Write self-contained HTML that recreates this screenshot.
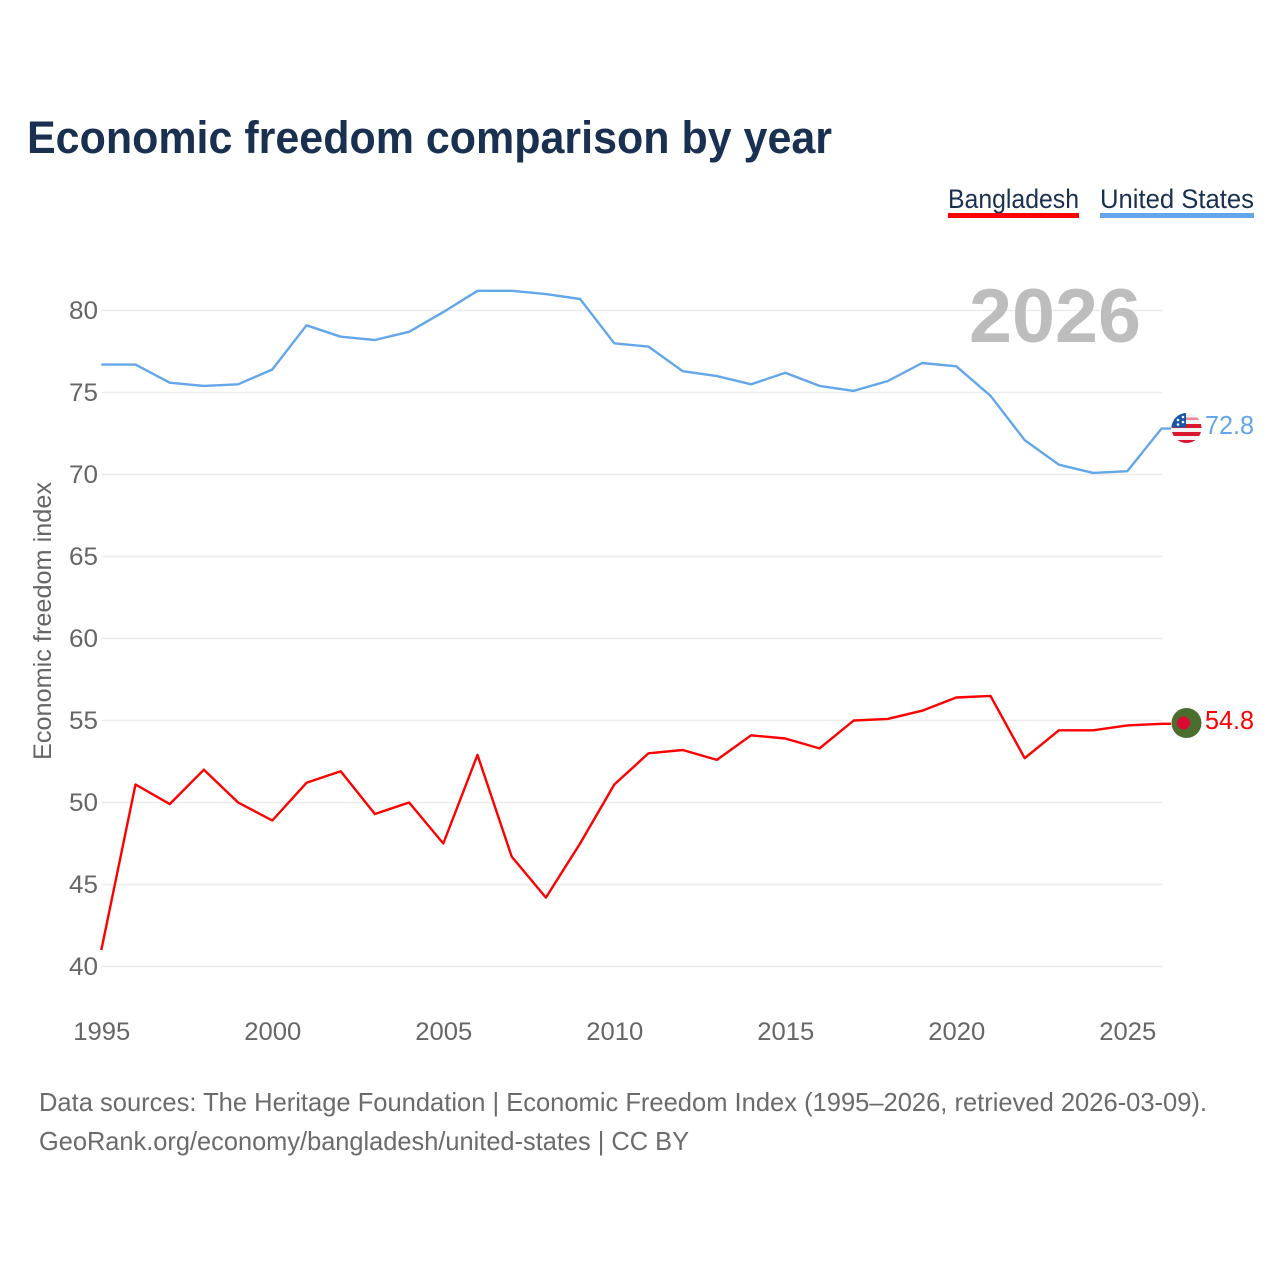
<!DOCTYPE html>
<html lang="en">
<head>
<meta charset="utf-8">
<title>Economic freedom comparison by year</title>
<style>
html,body{margin:0;padding:0;background:#fff;width:1280px;height:1280px;overflow:hidden}
svg{display:block;font-family:"Liberation Sans",sans-serif}
</style>
</head>
<body>
<svg id="chart" xmlns="http://www.w3.org/2000/svg" width="1280" height="1280" viewBox="0 0 1280 1280">
  <defs>
    <clipPath id="us-clip"><circle cx="1186.5" cy="428" r="15"/></clipPath>
    <clipPath id="bd-clip"><circle cx="1186.5" cy="723" r="15"/></clipPath>
  </defs>
  <rect x="0" y="0" width="1280" height="1280" fill="#ffffff"/>
  <text x="27" y="153" font-size="45" font-weight="700" fill="#1a3050" textLength="805" lengthAdjust="spacingAndGlyphs">Economic freedom comparison by year</text>

  <g>
    <text x="948" y="208" font-size="27" fill="#1a3050" textLength="131" lengthAdjust="spacingAndGlyphs">Bangladesh</text>
    <rect x="948" y="213" width="131" height="5" fill="#ff0000"/>
  </g>
  <g>
    <text x="1100" y="208" font-size="27" fill="#1a3050" textLength="154" lengthAdjust="spacingAndGlyphs">United States</text>
    <rect x="1100" y="213" width="154" height="5" fill="#63a6ea"/>
  </g>

  <g id="grid"></g>
  <g id="y-ticks"></g>
  <g id="x-ticks"></g>

  <text x="51" y="621" font-size="25" fill="#666666" text-anchor="middle" transform="rotate(-90 51 621)" textLength="278" lengthAdjust="spacingAndGlyphs">Economic freedom index</text>

  <text x="1141" y="342" font-size="76" font-weight="700" fill="#bdbdbd" text-anchor="end" textLength="172" lengthAdjust="spacingAndGlyphs">2026</text>

  <g id="series"></g>

  <g clip-path="url(#us-clip)">
    <rect x="1171" y="413" width="31" height="30" fill="#f2f2f2"/>
    <rect x="1171" y="417.5" width="31" height="2.5" fill="#e98a96"/>
    <rect x="1171" y="424" width="31" height="4" fill="#d8182f"/>
    <rect x="1171" y="432" width="31" height="4" fill="#d8182f"/>
    <rect x="1171" y="440" width="31" height="4" fill="#d8182f"/>
    <rect x="1171" y="413" width="15" height="14.5" fill="#1a56a8"/>
    <circle cx="1178" cy="420" r="1.3" fill="#fff"/>
    <circle cx="1183" cy="417" r="1.3" fill="#fff"/>
    <circle cx="1183" cy="422" r="1.3" fill="#fff"/>
    <circle cx="1178" cy="424.5" r="1.3" fill="#fff"/>
  </g>
  <g clip-path="url(#bd-clip)">
    <rect x="1171" y="708" width="31" height="30" fill="#4b6e2e"/>
    <circle cx="1183.5" cy="723" r="6.5" fill="#dc0a32"/>
  </g>

  <text id="label-us" x="1205" y="434" font-size="26" fill="#63a6ea" textLength="49" lengthAdjust="spacingAndGlyphs"></text>
  <text id="label-bd" x="1205" y="729" font-size="26" fill="#ff0000" textLength="49" lengthAdjust="spacingAndGlyphs"></text>

  <text x="39" y="1111" font-size="26" fill="#6b6b6b" textLength="1168" lengthAdjust="spacingAndGlyphs">Data sources: The Heritage Foundation | Economic Freedom Index (1995–2026, retrieved 2026-03-09).</text>
  <text x="39" y="1150" font-size="26" fill="#6b6b6b" textLength="650" lengthAdjust="spacingAndGlyphs">GeoRank.org/economy/bangladesh/united-states | CC BY</text>
</svg>
<script>
const years = [1995,1996,1997,1998,1999,2000,2001,2002,2003,2004,2005,2006,2007,2008,2009,2010,2011,2012,2013,2014,2015,2016,2017,2018,2019,2020,2021,2022,2023,2024,2025,2026];
const bangladeshValues = [41.0,51.1,49.9,52.0,50.0,48.9,51.2,51.9,49.3,50.0,47.5,52.9,46.7,44.2,47.5,51.1,53.0,53.2,52.6,54.1,53.9,53.3,55.0,55.1,55.6,56.4,56.5,52.7,54.4,54.4,54.7,54.8];
const unitedStatesValues = [76.7,76.7,75.6,75.4,75.5,76.4,79.1,78.4,78.2,78.7,79.9,81.2,81.2,81.0,80.7,78.0,77.8,76.3,76.0,75.5,76.2,75.4,75.1,75.7,76.8,76.6,74.8,72.1,70.6,70.1,70.2,72.8];
const yTickValues = [40,45,50,55,60,65,70,75,80];
const xTickValues = [1995,2000,2005,2010,2015,2020,2025];

const NS = 'http://www.w3.org/2000/svg';
function xScale(year){ return 101.3 + (year - 1995) * (1161.5 - 101.3) / 31; }
function yScale(value){ return 966.5 - (value - 40) * (966.5 - 310.5) / 40; }
function make(tag, attrs){
  const el = document.createElementNS(NS, tag);
  Object.keys(attrs).forEach(function(k){ el.setAttribute(k, attrs[k]); });
  return el;
}

const grid = document.getElementById('grid');
const yTicks = document.getElementById('y-ticks');
yTickValues.forEach(function(v){
  const line = make('line', {x1:101.5, x2:1162, y1:yScale(v), y2:yScale(v), stroke:'#ececec', 'stroke-width':1.6});
  
  
  grid.appendChild(line);
  const t = make('text', {x:98, y:yScale(v)+8.5, 'font-size':25, fill:'#666666', 'text-anchor':'end', textLength:29, lengthAdjust:'spacingAndGlyphs'});
  
  
  t.textContent = v;
  yTicks.appendChild(t);
});

const xTicks = document.getElementById('x-ticks');
xTickValues.forEach(function(y){
  const t = make('text', {x:xScale(y)+0.5, y:1040, 'font-size':25, fill:'#666666', 'text-anchor':'middle', textLength:57, lengthAdjust:'spacingAndGlyphs'});
  
  
  t.textContent = y;
  xTicks.appendChild(t);
});

function drawSeries(values, color, name){
  const pts = values.map(function(v, i){ return xScale(years[i]).toFixed(1) + ',' + yScale(v).toFixed(1); });
  const last = values[values.length - 1];
  pts.push('1171,' + yScale(last).toFixed(1));
  const line = make('polyline', {points:pts.join(' '), fill:'none', stroke:color, 'stroke-width':2.4, 'stroke-linejoin':'round'});
  
  
  document.getElementById('series').appendChild(line);
}
drawSeries(unitedStatesValues, '#63a6ea', 'line-united-states');
drawSeries(bangladeshValues, '#ff0000', 'line-bangladesh');

document.getElementById('label-us').textContent = unitedStatesValues[unitedStatesValues.length - 1].toFixed(1);
document.getElementById('label-bd').textContent = bangladeshValues[bangladeshValues.length - 1].toFixed(1);
</script>
</body>
</html>
